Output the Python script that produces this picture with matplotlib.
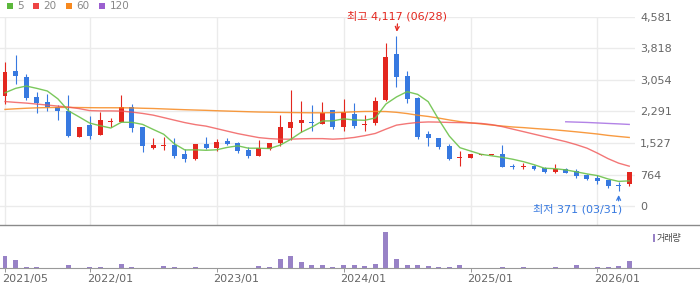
import matplotlib
matplotlib.use("Agg")
import matplotlib.pyplot as plt
import matplotlib.transforms as mtransforms
from matplotlib.patches import Rectangle
import numpy as np
import pandas as pd

plt.rcParams["font.family"] = ["DejaVu Sans", "Noto Sans CJK KR"]

# monthly candles, 2021/05 .. 2026/04
start_month = "2021-05"
opens = [2669, 3274, 3114, 2638, 2517, 2390, 2308, 1677, 1960, 1726,
         2033, 2033, 2390, 1912, 1411, 1460, 1476, 1251, 1137, 1500,
         1411, 1573, 1517, 1355, 1210, 1387, 1517, 1896, 2017, 2041,
         1985, 2323, 1920, 2227, 1969, 2001, 2566, 3678, 3146, 2614,
         1742, 1646, 1452, 1170, 1169, 1250, 1245, 1258, 968, 955,
         968, 927, 823, 895, 840, 758, 678, 629, 500, 549]
highs = [3492, 3654, 3194, 2759, 2710, 2444, 2695, 1920, 2178, 2284,
         2123, 2686, 2461, 1912, 1638, 1670, 1638, 1372, 1500, 1662,
         1614, 1638, 1556, 1420, 1597, 1517, 2202, 2808, 2541, 2444,
         2525, 2323, 2590, 2493, 2202, 2638, 3950, 4117, 3267, 2646,
         1815, 1646, 1500, 1331, 1258, 1260, 1255, 1476, 1016, 1048,
         1008, 951, 1016, 920, 895, 782, 766, 629, 589, 823]
lows = [2468, 2952, 2565, 2258, 2306, 2081, 1670, 1670, 1629, 1726,
        1920, 2033, 1800, 1314, 1372, 1355, 1169, 1072, 1121, 1372,
        1331, 1476, 1290, 1169, 1210, 1355, 1452, 1597, 1800, 1808,
        1985, 1872, 1824, 1896, 1824, 1953, 2541, 2889, 2485, 1614,
        1459, 1372, 1113, 968, 1169, 1250, 1245, 951, 903, 903,
        871, 807, 807, 807, 685, 637, 549, 444, 371, 484]
closes = [3250, 3146, 2618, 2500, 2388, 2308, 1694, 1912, 1702, 2081,
          2065, 2390, 1896, 1459, 1476, 1476, 1217, 1145, 1500, 1411,
          1549, 1500, 1339, 1217, 1404, 1517, 1904, 2033, 2081, 2025,
          2259, 1920, 2275, 1944, 1985, 2541, 3606, 3130, 2582, 1662,
          1654, 1435, 1137, 1186, 1258, 1260, 1250, 951, 955, 968,
          895, 823, 895, 807, 733, 653, 612, 492, 485, 823]
volumes = [123, 87, 13, 13, 0, 0, 33, 0, 13, 13,
           0, 43, 13, 0, 0, 23, 13, 0, 13, 0,
           0, 0, 0, 0, 23, 13, 93, 123, 63, 33,
           33, 13, 33, 33, 23, 43, 367, 93, 33, 33,
           23, 13, 13, 33, 0, 0, 0, 13, 0, 13,
           0, 0, 13, 0, 33, 0, 13, 13, 23, 73]

# moving averages as drawn on the chart
ma5 = [2742, 2849, 2905, 2849, 2785, 2595, 2305, 2160, 2010, 1945,
       1890, 2030, 2027, 1978, 1857, 1740, 1510, 1360, 1363, 1352,
       1364, 1421, 1460, 1403, 1402, 1395, 1476, 1615, 1788, 1912,
       2060, 2064, 2112, 2085, 2077, 2133, 2470, 2641, 2769, 2704,
       2527, 2093, 1694, 1415, 1334, 1255, 1218, 1181, 1135, 1077,
       1004, 918, 907, 878, 831, 782, 740, 659, 600, 613]
ma20 = [2530, 2510, 2493, 2469, 2445, 2420, 2396, 2360, 2311, 2304,
        2304, 2299, 2275, 2243, 2202, 2142, 2081, 2021, 1972, 1936,
        1876, 1815, 1755, 1706, 1658, 1634, 1621, 1621, 1630, 1634,
        1634, 1621, 1634, 1662, 1706, 1759, 1863, 1960, 1997, 2025,
        2037, 2033, 2025, 2021, 2013, 2001, 1972, 1924, 1863, 1803,
        1742, 1682, 1621, 1561, 1488, 1404, 1283, 1150, 1041, 968]
ma60 = [2340, 2355, 2368, 2378, 2384, 2388, 2388, 2385, 2382, 2380,
        2380, 2379, 2376, 2368, 2362, 2352, 2342, 2333, 2325, 2318,
        2308, 2300, 2292, 2284, 2277, 2273, 2268, 2264, 2261, 2258,
        2258, 2262, 2270, 2282, 2290, 2291, 2288, 2270, 2240, 2200,
        2170, 2130, 2085, 2045, 2015, 1990, 1962, 1938, 1915, 1900,
        1880, 1862, 1845, 1822, 1798, 1772, 1745, 1712, 1686, 1662]
ma120_start = 53
ma120 = [2041, 2033, 2025, 2013, 2001, 1990, 1977]

price_ticks = [0, 764, 1527, 2291, 3054, 3818, 4581]
tick_months = ["2021/05", "2022/01", "2023/01", "2024/01", "2025/01", "2026/01"]
high_label = "최고 4,117 (06/28)"
low_label = "최저 371 (03/31)"

UP = "#e3271f"
DOWN = "#3779e0"
GRID = "#ebebeb"
TXT = "#666666"

W, H = 700, 289
fig = plt.figure(figsize=(W / 100, H / 100), dpi=100)


def fx(x):
    return x / W


def fy(y):
    return 1 - y / H


# price panel: x = 0..635 px, y = 16.7..225 px
ax = fig.add_axes([0, fy(225), fx(635), fy(16.7) - fy(225)])
# volume panel: full width, y = 225..268.3 px
axv = fig.add_axes([0, fy(268.3), 1, fy(225) - fy(268.3)])

n = len(closes)
x = np.arange(n)
px_per_month = 10.58
x0 = -5 / px_per_month
ax.set_xlim(x0, x0 + 635 / px_per_month)
axv.set_xlim(x0, x0 + 700 / px_per_month)
ax.set_ylim(-454, 4581)

o = np.array(opens, float)
c = np.array(closes, float)
up = c >= o
colors = np.where(up, UP, DOWN)

# candles
min_h = 26
body = np.abs(c - o)
bottom = np.minimum(o, c) - np.clip(min_h - body, 0, None) / 2
ax.vlines(x, lows, highs, colors=colors, lw=0.8, zorder=2)
ax.bar(x, np.maximum(body, min_h), bottom=bottom, width=0.47,
       color=colors, linewidth=0, zorder=3)

# moving averages
ax.plot(x, ma60, color="#f7891f", lw=1.0, alpha=0.85, zorder=4)
ax.plot(x, ma20, color="#f05555", lw=1.0, alpha=0.8, zorder=4)
ax.plot(x, ma5, color="#6cc24a", lw=1.0, alpha=0.9, zorder=4)
ax.plot(x[ma120_start:ma120_start + len(ma120)], ma120,
        color="#a56de2", lw=1.0, alpha=0.85, zorder=4)

months = pd.period_range(start_month, periods=n, freq="M").strftime("%Y/%m")
tick_idx = [list(months).index(m) for m in tick_months]

# grid / axes cosmetics for price panel
ax.set_xticks(tick_idx)
ax.set_yticks(price_ticks)
ax.grid(True, color=GRID, lw=1.0, zorder=0)
ax.set_axisbelow(True)
ax.tick_params(axis="x", length=0, labelbottom=False)
ax.yaxis.tick_right()
ax.tick_params(axis="y", length=0, pad=3.6, labelsize=8, labelcolor=TXT)
ax.set_yticklabels([f"{v:,}" for v in price_ticks])
for lbl in ax.get_yticklabels():
    lbl.set_horizontalalignment("left")
for s in ax.spines.values():
    s.set_visible(False)

# high / low markers
hi = int(np.argmax(highs))
lo = int(np.argmin(lows))
ax.annotate("", xy=(hi, highs[hi]), xytext=(1, 12), textcoords="offset pixels",
            arrowprops=dict(arrowstyle="->", color=UP, lw=0.9, shrinkA=0, shrinkB=3,
                            mutation_scale=7))
ax.annotate(high_label, xy=(hi, highs[hi]), xytext=(1, 19.5), textcoords="offset pixels",
            ha="center", va="center", color=UP, fontsize=8, annotation_clip=False)
ax.annotate("", xy=(lo, lows[lo]), xytext=(0, -10), textcoords="offset pixels",
            arrowprops=dict(arrowstyle="->", color=DOWN, lw=0.9, shrinkA=0, shrinkB=3,
                            mutation_scale=7))
ax.annotate(low_label, xy=(lo, lows[lo]), xytext=(3, -18.5), textcoords="offset pixels",
            ha="right", va="center", color=DOWN, fontsize=8, annotation_clip=False)

# volume panel
vmax = max(volumes)
axv.bar(x, volumes, width=0.47, color="#9882c6", linewidth=0)
axv.set_ylim(0, vmax * 43.3 / 36.7)
axv.set_yticks([])
axv.set_xticks(tick_idx)
axv.set_xticklabels(tick_months)
axv.tick_params(axis="x", length=2.9, width=0.7, color="#999999", pad=1.5,
                labelsize=8, labelcolor=TXT)
shift = mtransforms.ScaledTranslation(-3 / 100, 0, fig.dpi_scale_trans)
for lbl in axv.get_xticklabels():
    lbl.set_horizontalalignment("left")
    lbl.set_transform(lbl.get_transform() + shift)
for side in ("left", "right"):
    axv.spines[side].set_visible(False)
axv.spines["top"].set_color("#8a8a8a")
axv.spines["top"].set_linewidth(1.0)
axv.spines["bottom"].set_color("#999999")
axv.spines["bottom"].set_linewidth(0.8)
axv.patch.set_alpha(0)

# volume legend
fig.add_artist(Rectangle((fx(652.7), fy(242.3)), fx(2.3), fy(234.3) - fy(242.3),
                         transform=fig.transFigure, color="#9882c6", lw=0))
fig.text(fx(657), fy(238.5), "거래량", fontsize=6.5, color="#444444", va="center")

# moving-average legend
legend_items = [("5", "#5cb83c", 7, 17.5), ("20", "#ee4444", 33.3, 43.3),
                ("60", "#f7891f", 66, 76.3), ("120", "#9b5fd0", 99, 110)]
for label, col, sx, tx in legend_items:
    fig.add_artist(Rectangle((fx(sx), fy(9)), fx(6), fy(3) - fy(9),
                             transform=fig.transFigure, color=col, lw=0))
    fig.text(fx(tx), fy(6), label, fontsize=7.5, color="#888888", va="center")

fig.savefig("out.png", dpi=100)
